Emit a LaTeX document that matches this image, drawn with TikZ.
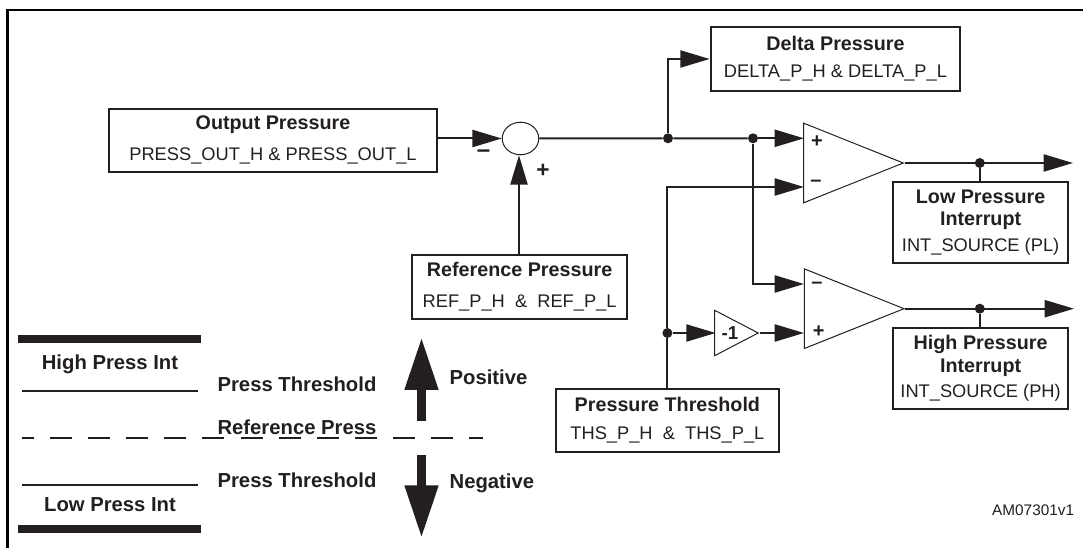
\documentclass[tikz,border=0pt]{standalone}
\usepackage{fontspec}
\setmainfont{Liberation Sans}
\usetikzlibrary{arrows.meta,shapes.geometric}
\definecolor{ink}{HTML}{231F20}
\newcommand{\hd}[1]{{\fontsize{14.8pt}{16pt}\selectfont\bfseries #1}}
\newcommand{\rg}[1]{{\fontsize{13.7pt}{16pt}\selectfont #1}}
\tikzset{
  sbox/.style={draw=ink,text=ink,line width=1.5pt,align=center,inner sep=0pt,font=\fontsize{14pt}{#1}\selectfont},
  wire/.style={draw=ink,line width=1.5pt},
  conn/.style={wire,-{Triangle[length=22pt,width=12.8pt]}},
  dot/.style={circle,fill=ink,inner sep=0pt,minimum size=7.5pt},
  amp/.style={draw=ink,line width=.75pt,isosceles triangle,isosceles triangle stretches,shape border rotate=0,inner sep=0pt,anchor=apex},
  lab/.style={text=ink,font=\fontsize{15.2pt}{17pt}\selectfont\bfseries,inner sep=0pt},
  sign/.style={text=ink,font=\fontsize{15pt}{17pt}\selectfont\bfseries,inner sep=0pt},
  bigarrow/.style={draw=ink,line width=6.8pt,-{Triangle[length=39.5pt,width=23.7pt]}},
  thick bar/.style={draw=ink,line width=6pt},
  thin bar/.style={draw=ink,line width=1.6pt},
}
\begin{document}
\begin{tikzpicture}[x=0.75pt,y=-0.75pt]
\useasboundingbox (0,0) rectangle (1083,548);
% frame
\coordinate (fa) at (7.5,548); \coordinate (fb) at (7.5,10); \coordinate (fc) at (1083,10);
\draw[black,line width=1.8pt] (fa) -- (fb) -- (fc);
% boxes
\node[sbox=23.25pt,minimum width=246.4pt,minimum height=47.5pt] (output) at (273,140.3) {\hd{Output Pressure}\\\rg{PRESS\_OUT\_H \& PRESS\_OUT\_L}};
\node[sbox=19.8pt,minimum width=187.3pt,minimum height=47.8pt] (delta) at (835.5,58.8) {\hd{Delta Pressure}\\\rg{DELTA\_P\_H \& DELTA\_P\_L}};
\node[sbox=22.7pt,minimum width=161.5pt,minimum height=48.2pt] (ref) at (519.6,286.8) {\hd{Reference Pressure}\\\rg{REF\_P\_H\ \ \&\ \ REF\_P\_L}};
\node[sbox=20.5pt,minimum width=167.8pt,minimum height=47pt] (ths) at (667.4,420.3) {\hd{Pressure Threshold}\\\rg{THS\_P\_H\ \ \&\ \ THS\_P\_L}};
\node[sbox=16.8pt,minimum width=131.7pt,minimum height=61pt] (low) at (980.6,222.3) {\hd{Low Pressure}\\\hd{Interrupt}\\[2.2pt]\rg{INT\_SOURCE (PL)}};
\node[sbox=17.6pt,minimum width=131.7pt,minimum height=61pt] (high) at (980.6,368.3) {\hd{High Pressure}\\\hd{Interrupt}\\[1.2pt]\rg{INT\_SOURCE (PH)}};
% summing junction
\node[ellipse,draw=ink,line width=.75pt,inner sep=0pt,minimum width=27.4pt,minimum height=24.4pt] (sum) at (520.5,138.5) {};
% amplifiers
\node[amp,minimum width=59.7pt,minimum height=74.7pt] (cmpA) at (904.6,163) {};
\node[amp,minimum width=59.7pt,minimum height=74.7pt] (cmpB) at (905.3,308.7) {};
\node[amp,minimum width=34pt,minimum height=32.6pt] (neg) at (759.5,333) {};
\node[sign,font=\fontsize{14pt}{16pt}\selectfont\bfseries] (negt) at (730,333) {-1};
% signs
\node[sign] (s1) at (817,141.3) {+};
\node[sign] (s2) at (816,183.3) {–};
\node[sign] (s3) at (817,285) {–};
\node[sign] (s4) at (818.7,331.7) {+};
\node[sign,font=\fontsize{18pt}{19pt}\selectfont\bfseries] (s5) at (483.5,153.3) {–};
\node[sign,font=\fontsize{17pt}{18pt}\selectfont\bfseries] (s6) at (543,171) {+};
% junctions
\node[dot] (j1) at (668,138.3) {};
\node[dot] (j2) at (753,138.3) {};
\node[dot] (j3) at (667.4,333) {};
\node[dot] (j4) at (979.8,163) {};
\node[dot] (j5) at (979.8,308.7) {};
% free points
\coordinate (c1p) at (804,138.3);
\coordinate (c1m) at (804,187);
\coordinate (c2m) at (804,284);
\coordinate (c2p) at (804,333);
\coordinate (negin) at (715.6,333);
\coordinate (outA) at (1073,163);
\coordinate (outB) at (1074,308.7);
% connectors
\draw[conn] (output.east |- sum.west) -- (sum.west);
\draw[conn] (ref.north -| 519,0) -- (519,155.3);
\draw[wire] (sum.east) -- (j1) -- (j2);
\draw[conn] (j1) |- (delta.west |- 0,59);
\draw[conn] (j2) -- (c1p);
\draw[conn] (j2) |- (c2m);
\draw[wire] (ths.north) -- (j3);
\draw[conn] (j3) |- (c1m);
\draw[conn] (j3) -- (negin);
\draw[conn] (neg.apex) -- (c2p);
\draw[conn] (cmpA.apex) -- (outA);
\draw[conn] (cmpB.apex) -- (outB);
\draw[wire] (j4) -- (j4 |- low.north);
\draw[wire] (j5) -- (j5 |- high.north);
% id
\node[text=ink,font=\fontsize{11.5pt}{13pt}\selectfont,inner sep=0pt,anchor=east] (id) at (1074.3,510.7) {AM07301v1};
% legend
\coordinate (t1a) at (18,339); \coordinate (t1b) at (201,339);
\coordinate (t2a) at (18,529); \coordinate (t2b) at (201,529);
\coordinate (l1a) at (22,391); \coordinate (l1b) at (198,391);
\coordinate (l2a) at (22,484.7); \coordinate (l2b) at (198,484.7);
\coordinate (da) at (22,437.7); \coordinate (db) at (483,437.7);
\draw[thick bar] (t1a) -- (t1b);
\draw[thick bar] (t2a) -- (t2b);
\draw[thin bar] (l1a) -- (l1b);
\draw[thin bar] (l2a) -- (l2b);
\draw[thin bar,dash pattern=on 16.5pt off 12.1pt,dash phase=7.7pt] (da) -- (db);
\node[lab] (hp) at (110,364.7) {High Press Int};
\node[lab] (lp) at (110,504.7) {Low Press Int};
\node[lab] (pt1) at (297,384.7) {Press Threshold};
\node[lab] (rp) at (297,427) {Reference Press};
\node[lab] (pt2) at (297,480.7) {Press Threshold};
\node[lab,anchor=west] (pos) at (449.4,377.7) {Positive};
\node[lab,anchor=west] (nega) at (449.4,483.7) {Negative};
\coordinate (ua) at (421.5,420.7); \coordinate (ub) at (421.5,337.3);
\coordinate (wa) at (421.5,455); \coordinate (wb) at (421.5,538);
\draw[bigarrow] (ua) -- (ub);
\draw[bigarrow] (wa) -- (wb);
\end{tikzpicture}
\end{document}
